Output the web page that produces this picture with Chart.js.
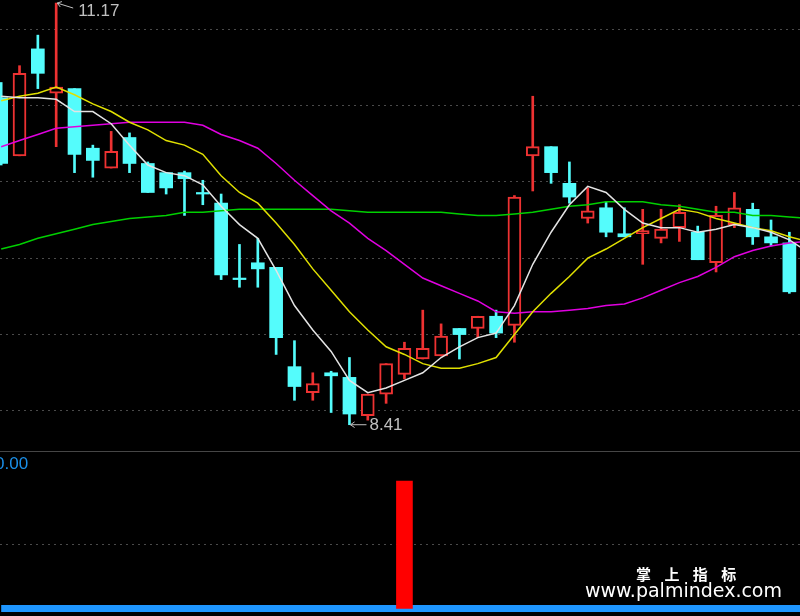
<!DOCTYPE html>
<html>
<head>
<meta charset="utf-8">
<title>K线</title>
<script src="https://cdn.jsdelivr.net/npm/chart.js@4.4.1/dist/chart.umd.min.js"></script>
<style>
  html, body { margin: 0; padding: 0; background: #000; overflow: hidden; }
  #wrap { position: relative; width: 800px; height: 616px; }
  #kChart { position: absolute; left: 0; top: 0; }
  #sigChart { position: absolute; left: 0; top: 451px; }
</style>
</head>
<body>
<div id="wrap">
  <canvas id="kChart" width="800" height="451"></canvas>
  <canvas id="sigChart" width="800" height="165"></canvas>
</div>
<script>
// K线数据
const opens  = [10.55,10.17,10.87,10.58,10.61,10.22,10.09,10.29,10.12,10.06,10.06,9.93,9.86,9.37,9.47,9.44,8.79,8.62,8.75,8.72,8.47,8.61,8.74,8.84,8.86,9.04,9.04,9.12,9.06,10.17,10.23,9.99,9.76,9.83,9.66,9.66,9.63,9.70,9.67,9.47,9.72,9.82,9.64,9.60];
const highs  = [10.65,10.76,10.96,11.17,10.61,10.24,10.33,10.32,10.13,10.06,10.07,10.01,9.92,9.59,9.63,9.44,8.96,8.75,8.76,8.85,8.61,8.81,8.95,9.16,9.07,9.04,9.12,9.16,9.91,10.56,10.23,10.13,9.96,9.87,9.83,9.82,9.82,9.85,9.71,9.84,9.93,9.86,9.75,9.67];
const lows   = [10.11,10.17,10.61,10.23,10.06,10.03,10.09,10.06,9.93,9.92,9.78,9.85,9.36,9.31,9.31,8.87,8.57,8.57,8.49,8.41,8.44,8.55,8.71,8.84,8.86,8.84,8.98,8.98,8.95,9.94,9.99,9.86,9.73,9.64,9.64,9.46,9.60,9.61,9.49,9.41,9.70,9.59,9.58,9.27];
const closes = [10.12,10.71,10.71,10.62,10.18,10.14,10.20,10.12,9.93,9.96,10.02,9.92,9.39,9.36,9.43,8.98,8.66,8.68,8.73,8.48,8.61,8.81,8.91,8.91,8.99,9.00,9.12,9.01,9.90,10.23,10.06,9.90,9.81,9.67,9.64,9.68,9.69,9.80,9.49,9.78,9.83,9.64,9.60,9.28];

// 均线（最后一个点在右边界外）
const ma5  = [10.56,10.55,10.55,10.54,10.46,10.46,10.38,10.24,10.11,10.06,10.04,9.98,9.84,9.72,9.63,9.42,9.19,9.03,8.89,8.70,8.62,8.65,8.70,8.75,8.85,8.92,8.98,9.01,9.19,9.46,9.67,9.85,9.97,9.93,9.82,9.73,9.70,9.70,9.67,9.69,9.72,9.70,9.67,9.62,9.54];
const ma10 = [10.53,10.56,10.58,10.62,10.57,10.51,10.46,10.39,10.34,10.27,10.24,10.18,10.04,9.93,9.86,9.73,9.59,9.43,9.29,9.15,9.03,8.92,8.87,8.81,8.78,8.78,8.81,8.85,9.00,9.15,9.27,9.38,9.50,9.56,9.63,9.70,9.76,9.82,9.80,9.76,9.73,9.70,9.68,9.64,9.61];
const ma20 = [10.23,10.27,10.31,10.35,10.36,10.37,10.38,10.39,10.39,10.39,10.39,10.37,10.31,10.27,10.22,10.12,10.01,9.91,9.81,9.73,9.63,9.55,9.46,9.37,9.32,9.27,9.22,9.15,9.14,9.15,9.15,9.16,9.17,9.19,9.20,9.24,9.29,9.34,9.38,9.44,9.51,9.55,9.58,9.60,9.61];
const ma60 = [9.56,9.59,9.63,9.66,9.69,9.72,9.74,9.76,9.77,9.78,9.80,9.80,9.81,9.82,9.82,9.82,9.82,9.82,9.82,9.81,9.80,9.80,9.80,9.80,9.80,9.79,9.78,9.78,9.79,9.80,9.82,9.84,9.85,9.87,9.87,9.87,9.85,9.84,9.82,9.80,9.80,9.78,9.78,9.77,9.76];

const priceGrid = [8.5, 9.0, 9.5, 10.0, 10.5, 11.0];

// 副图信号
const signal = [0,0,0,0,0,0,0,0,0,0,0,0,0,0,0,0,0,0,0,0,0,0,1,0,0,0,0,0,0,0,0,0,0,0,0,0,0,0,0,0,0,0,0,0];
const signalLine = [0,0,0,0,0,0,0,0,0,0,0,0,0,0,0,0,0,0,0,0,0,0,0,0,0,0,0,0,0,0,0,0,0,0,0,0,0,0,0,0,0,0,0,0,0];
const signalGrid = [0.5];
const signalLabel = '0.00';

const upColor = '#ee3232';
const downColor = '#54fcfc';

function isUp(i) { return closes[i] >= opens[i]; }
function pts(arr) { return arr.map((v, i) => ({ x: i, y: v })); }

function arrow(ctx, x1, y1, x2, y2) {
    // 箭头指向 (x1, y1)
    const a = Math.atan2(y2 - y1, x2 - x1);
    ctx.beginPath();
    ctx.moveTo(x2, y2);
    ctx.lineTo(x1, y1);
    ctx.moveTo(x1 + 5 * Math.cos(a - 0.6), y1 + 5 * Math.sin(a - 0.6));
    ctx.lineTo(x1, y1);
    ctx.lineTo(x1 + 5 * Math.cos(a + 0.6), y1 + 5 * Math.sin(a + 0.6));
    ctx.stroke();
}

const markPlugin = {
    id: 'marks',
    afterDatasetsDraw(chart) {
        const { ctx, scales: { x, y } } = chart;
        const hi = highs.indexOf(Math.max(...highs));
        const lo = lows.indexOf(Math.min(...lows));
        ctx.save();
        ctx.strokeStyle = '#c0c0c0';
        ctx.fillStyle = '#c0c0c0';
        ctx.lineWidth = 1;
        ctx.font = '17px "Liberation Sans", Arial, sans-serif';
        ctx.textBaseline = 'middle';

        let px = x.getPixelForValue(hi) + 1;
        let py = y.getPixelForValue(highs[hi]);
        arrow(ctx, px, py, px + 16, py + 5);
        ctx.fillText(highs[hi].toFixed(2), px + 21, py + 8);

        px = x.getPixelForValue(lo) + 1;
        py = y.getPixelForValue(lows[lo]);
        arrow(ctx, px, py, px + 16, py);
        ctx.fillText(lows[lo].toFixed(2), px + 19, py + 1);
        ctx.restore();
    }
};

const sigPlugin = {
    id: 'sigText',
    beforeDraw(chart) {
        const ctx = chart.ctx;
        ctx.save();
        ctx.fillStyle = '#000';
        ctx.fillRect(0, 0, chart.width, chart.height);
        ctx.strokeStyle = '#464646';
        ctx.lineWidth = 1;
        ctx.beginPath();
        ctx.moveTo(0, 0.5);
        ctx.lineTo(chart.width, 0.5);
        ctx.stroke();
        ctx.restore();
    },
    afterDraw(chart) {
        const ctx = chart.ctx;
        ctx.save();
        ctx.fillStyle = '#1a8fe8';
        ctx.font = '17px "Liberation Sans", Arial, sans-serif';
        ctx.textBaseline = 'middle';
        ctx.fillText(signalLabel, -5, 13);

        ctx.fillStyle = '#ffffff';
        ctx.font = 'bold 15px "Noto Sans CJK SC", sans-serif';
        ctx.letterSpacing = '5px';
        ctx.fillText('掌 上 指 标', 636, 123);
        ctx.letterSpacing = '0px';
        ctx.font = '19px "DejaVu Sans", sans-serif';
        ctx.fillText('www.palmindex.com', 585, 141);
        ctx.restore();
    }
};

document.addEventListener('DOMContentLoaded', function() {

    const kCanvas = document.getElementById('kChart');
    new Chart(kCanvas.getContext('2d'), {
        type: 'bar',
        data: {
            datasets: [
                { type: 'line', label: 'MA5', data: pts(ma5), borderColor: '#e4e4e4', borderWidth: 1.5, pointRadius: 0, tension: 0, order: 0 },
                { type: 'line', label: 'MA10', data: pts(ma10), borderColor: '#e0e000', borderWidth: 1.5, pointRadius: 0, tension: 0, order: 1 },
                { type: 'line', label: 'MA20', data: pts(ma20), borderColor: '#e000e0', borderWidth: 1.5, pointRadius: 0, tension: 0, order: 2 },
                { type: 'line', label: 'MA60', data: pts(ma60), borderColor: '#00d000', borderWidth: 1.5, pointRadius: 0, tension: 0, order: 3 },
                {
                    label: '实体',
                    data: opens.map((o, i) => ({ x: i, y: [o, closes[i]] })),
                    backgroundColor: c => isUp(c.dataIndex) ? '#000000' : downColor,
                    borderColor: c => isUp(c.dataIndex) ? upColor : downColor,
                    borderWidth: c => isUp(c.dataIndex) ? 2 : 0,
                    borderSkipped: false,
                    barThickness: 13,
                    grouped: false,
                    order: 5
                },
                {
                    label: '影线',
                    data: lows.map((l, i) => ({ x: i, y: [l, highs[i]] })),
                    backgroundColor: c => isUp(c.dataIndex) ? upColor : downColor,
                    borderWidth: 0,
                    barThickness: 2,
                    grouped: false,
                    order: 6
                }
            ]
        },
        options: {
            responsive: false,
            animation: false,
            events: [],
            layout: { padding: 0 },
            plugins: { legend: { display: false }, tooltip: { enabled: false } },
            scales: {
                x: { type: 'linear', min: -0.065, max: 43.58, offset: false, display: false },
                y: {
                    min: 8.238, max: 11.19,
                    afterBuildTicks: s => { s.ticks = priceGrid.map(v => ({ value: v })); },
                    afterFit: s => { s.width = 0; },
                    ticks: { display: false },
                    grid: { color: '#4a4a4a', lineWidth: 1, drawTicks: false },
                    border: { display: false, dash: [2, 4] }
                }
            }
        },
        plugins: [markPlugin]
    });

    const sigCanvas = document.getElementById('sigChart');
    new Chart(sigCanvas.getContext('2d'), {
        type: 'bar',
        data: {
            datasets: [
                {
                    label: '信号',
                    data: pts(signal).filter(p => p.y > 0),
                    backgroundColor: '#ff0000',
                    barThickness: 16,
                    grouped: false,
                    order: 0
                },
                { type: 'line', label: '零轴', data: pts(signalLine), borderColor: '#1e96ff', borderWidth: 7, pointRadius: 0, order: 1 }
            ]
        },
        options: {
            responsive: false,
            animation: false,
            events: [],
            layout: { padding: 0 },
            plugins: { legend: { display: false }, tooltip: { enabled: false } },
            scales: {
                x: { type: 'linear', min: -0.065, max: 43.58, offset: false, display: false },
                y: {
                    min: -0.059, max: 1.236,
                    afterBuildTicks: s => { s.ticks = signalGrid.map(v => ({ value: v })); },
                    afterFit: s => { s.width = 0; },
                    ticks: { display: false },
                    grid: { color: '#4a4a4a', lineWidth: 1, drawTicks: false },
                    border: { display: false, dash: [2, 4] }
                }
            }
        },
        plugins: [sigPlugin]
    });
});
</script>
</body>
</html>
